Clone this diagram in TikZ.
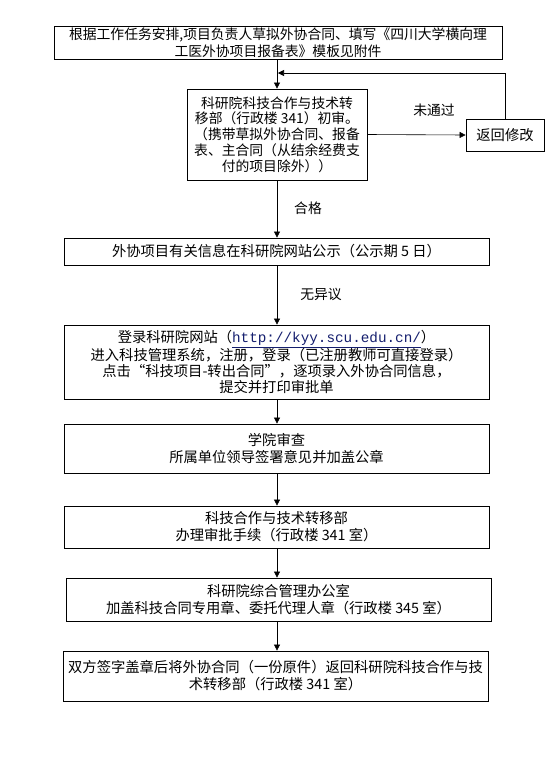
\documentclass[tikz,border=0pt]{standalone}
\usepackage{fontspec}
\setmainfont{Noto Sans CJK SC}
\setmonofont{Liberation Mono}
\usetikzlibrary{arrows.meta,calc}
\definecolor{urlblue}{RGB}{20,30,110}
\begin{document}
\begin{tikzpicture}[x=1pt,y=-1pt,
  box/.style={draw,line width=0.8pt,rectangle,align=center,inner sep=0pt,
    font=\fontsize{14.3}{17}\selectfont},
  lbl/.style={font=\fontsize{13.8}{16}\selectfont,inner sep=0pt},
  arr/.style={-{Triangle[length=6pt,width=6pt]},line width=0.6pt}]
\useasboundingbox[fill=white] (0,0) rectangle (555,766);
\node[box,minimum width=448pt,minimum height=33pt,font=\fontsize{13.8}{16.5}\selectfont] (b1) at (278,42.5)
  {根据工作任务安排,项目负责人草拟外协合同、填写《四川大学横向理\\工医外协项目报备表》模板见附件};
\node[box,minimum width=180pt,minimum height=91pt,font=\fontsize{13.8}{15.8}\selectfont] (b2) at (277,134.5)
  {科研院科技合作与技术转\\移部（行政楼 341）初审。\\（携带草拟外协合同、报备\\表、主合同（从结余经费支\\付的项目除外））};
\node[box,minimum width=78pt,minimum height=32pt] (ret) at (505,135) {返回修改};
\node[box,minimum width=425pt,minimum height=27pt] (b3) at (276.5,251.5)
  {外协项目有关信息在科研院网站公示（公示期 5 日）};
\node[box,minimum width=425pt,minimum height=74pt,font=\fontsize{14.3}{16}\selectfont] (b4) at (276.5,362)
  {登录科研院网站（{\ttfamily\color{urlblue}\underline{http://kyy.scu.edu.cn/}}）\\进入科技管理系统，注册，登录（已注册教师可直接登录）\\点击“科技项目-转出合同”，逐项录入外协合同信息，\\提交并打印审批单};
\node[box,minimum width=425pt,minimum height=49pt] (b5) at (276.5,448.5)
  {学院审查\\所属单位领导签署意见并加盖公章};
\node[box,minimum width=425pt,minimum height=42pt] (b6) at (276.5,527)
  {科技合作与技术转移部\\办理审批手续（行政楼 341 室）};
\node[box,minimum width=425pt,minimum height=43pt] (b7) at (278.5,599.5)
  {科研院综合管理办公室\\加盖科技合同专用章、委托代理人章（行政楼 345 室）};
\node[box,minimum width=425pt,minimum height=50pt] (b8) at (275.5,676)
  {双方签字盖章后将外协合同（一份原件）返回科研院科技合作与技\\术转移部（行政楼 341 室）};
\node[lbl] (l1) at (434,110) {未通过};
\node[lbl] (l2) at (308,208) {合格};
\node[lbl] (l3) at (321,294) {无异议};
\coordinate (fb) at (278,73);
\draw[arr] (b1.south -| 277,0) -- (277,0 |- b2.north);
\draw[arr] (b2.east) -- (ret.west);
\draw[arr] (ret.north) |- (fb);
\draw[arr] (b2.south -| 277,0) -- (277,0 |- b3.north);
\draw[arr] (b3.south -| 277,0) -- (277,0 |- b4.north);
\draw[arr] (b4.south -| 277,0) -- (277,0 |- b5.north);
\draw[arr] (b5.south -| 277,0) -- (277,0 |- b6.north);
\draw[arr] (b6.south -| 277,0) -- (277,0 |- b7.north);
\draw[arr] (b7.south -| 277,0) -- (277,0 |- b8.north);
\end{tikzpicture}
\end{document}
